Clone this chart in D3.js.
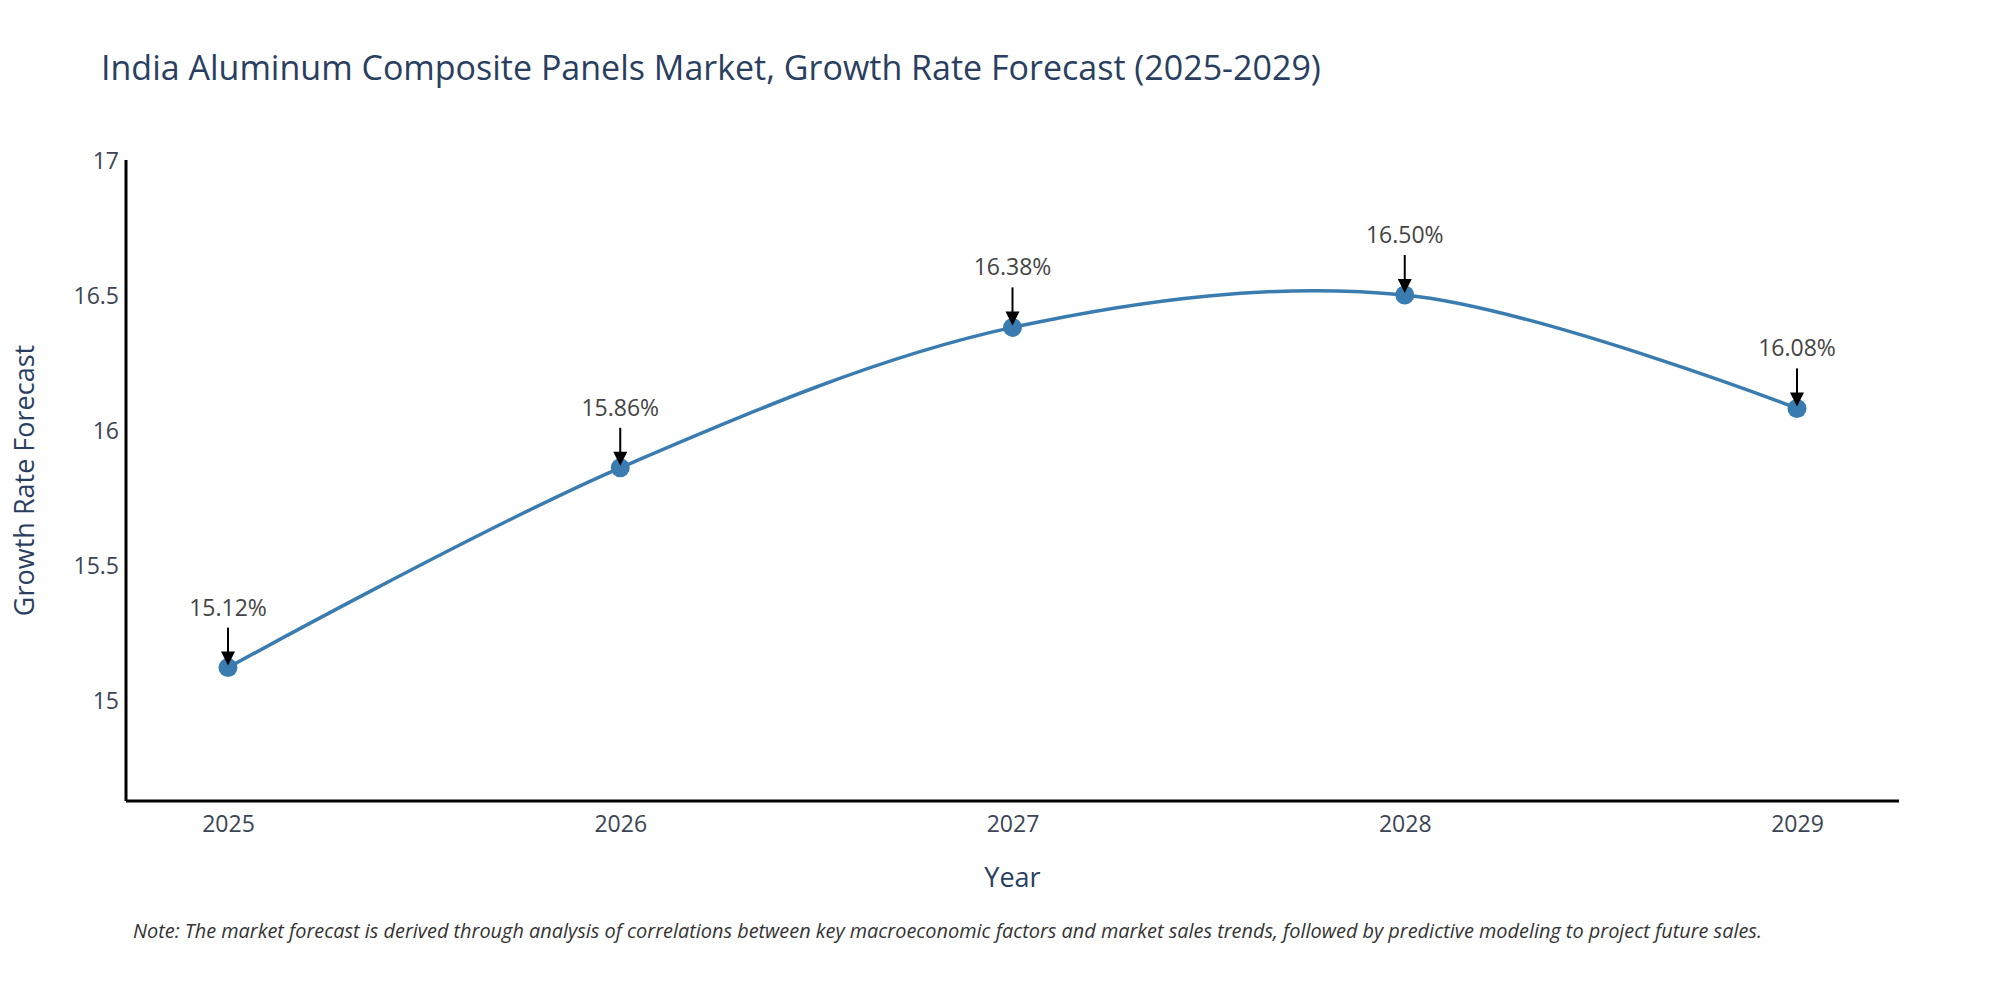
<!DOCTYPE html>
<html>
<head>
<meta charset="utf-8">
<script src="https://cdn.jsdelivr.net/npm/d3@7"></script>
<style>
  html, body { margin: 0; padding: 0; background: #fff; }
  svg { display: block; font-family: "Open Sans", "Noto Sans", sans-serif; }
</style>
</head>
<body>
<svg id="chart" width="2000" height="1000"></svg>
<script>
// ---- data ----
const years = [2025, 2026, 2027, 2028, 2029];
const growthRates = [15.12, 15.86, 16.38, 16.50, 16.08];
const yTickValues = [15, 15.5, 16, 16.5, 17];
const xTickValues = [2025, 2026, 2027, 2028, 2029];
const titleText = "India Aluminum Composite Panels Market, Growth Rate Forecast (2025-2029)";
const xTitleText = "Year";
const yTitleText = "Growth Rate Forecast";
const noteText = "Note: The market forecast is derived through analysis of correlations between key macroeconomic factors and market sales trends, followed by predictive modeling to project future sales.";

// ---- layout ----
const plot = { left: 126, right: 1899, top: 160, bottom: 801 };
const xDomain = [2024.74, 2029.26];
const yDomain = [14.626, 17];
const lineColor = "#3a7cb0";
const textColor = "#2a3f5f";
const tickColor = "#3b4454";

const svg = d3.select("#chart");
const x = d3.scaleLinear().domain(xDomain).range([plot.left, plot.right]);
const y = d3.scaleLinear().domain(yDomain).range([plot.bottom, plot.top]);

const data = years.map((yr, i) => ({ year: yr, value: growthRates[i] }));

// title
svg.append("text")
  .attr("x", 101).attr("y", 80)
  .attr("font-size", 34).attr("fill", textColor)
  .text(titleText);

// x axis
const xAxis = svg.append("g")
  .attr("transform", `translate(0,${plot.bottom})`)
  .call(d3.axisBottom(x).tickValues(xTickValues).tickFormat(d3.format("d")).tickSize(0).tickPadding(0));
xAxis.select(".domain").attr("stroke", "#000").attr("stroke-width", 3)
  .attr("d", `M${plot.left},0H${plot.right}`);
xAxis.selectAll(".tick text")
  .attr("y", 31).attr("dy", null)
  .attr("font-size", 23).attr("fill", tickColor)
  .attr("font-family", "Open Sans");

// y axis
const yAxis = svg.append("g")
  .attr("transform", `translate(${plot.left},0)`)
  .call(d3.axisLeft(y).tickValues(yTickValues).tickFormat(d3.format("~g")).tickSize(0).tickPadding(0));
yAxis.select(".domain").attr("stroke", "#000").attr("stroke-width", 3)
  .attr("d", `M0,${plot.top}V${plot.bottom}`);
yAxis.selectAll(".tick text")
  .attr("x", -7).attr("dy", "0.35em")
  .attr("font-size", 23).attr("fill", tickColor)
  .attr("font-family", "Open Sans");

// axis titles
svg.append("text")
  .attr("x", (plot.left + plot.right) / 2).attr("y", 887)
  .attr("text-anchor", "middle")
  .attr("font-size", 27).attr("fill", textColor)
  .text(xTitleText);

svg.append("text")
  .attr("transform", `translate(34,${(plot.top + plot.bottom) / 2}) rotate(-90)`)
  .attr("text-anchor", "middle")
  .attr("font-size", 27).attr("fill", textColor)
  .text(yTitleText);

// line
const line = d3.line()
  .x(d => x(d.year))
  .y(d => y(d.value))
  .curve(d3.curveCatmullRom.alpha(0.5));

svg.append("path")
  .datum(data)
  .attr("fill", "none")
  .attr("stroke", lineColor)
  .attr("stroke-width", 3.5)
  .attr("d", line);

// markers
svg.append("g").selectAll("circle")
  .data(data).enter().append("circle")
  .attr("cx", d => x(d.year))
  .attr("cy", d => y(d.value))
  .attr("r", 9.5)
  .attr("fill", lineColor);

// annotations
const ann = svg.append("g").selectAll("g")
  .data(data).enter().append("g")
  .attr("transform", d => `translate(${x(d.year)},${y(d.value)})`);

ann.append("line")
  .attr("x1", 0).attr("x2", 0)
  .attr("y1", -40).attr("y2", -14)
  .attr("stroke", "#000").attr("stroke-width", 2);

ann.append("path")
  .attr("d", "M-7,-16L7,-16L0,-2Z")
  .attr("fill", "#000");

ann.append("text")
  .attr("x", 0).attr("y", -52)
  .attr("text-anchor", "middle")
  .attr("font-size", 23).attr("fill", "#444")
  .text(d => d3.format(".2f")(d.value) + "%");

// note
svg.append("text")
  .attr("x", 133).attr("y", 938)
  .attr("font-size", 19.9).attr("font-style", "italic").attr("fill", "#333")
  .text(noteText);
</script>
</body>
</html>
